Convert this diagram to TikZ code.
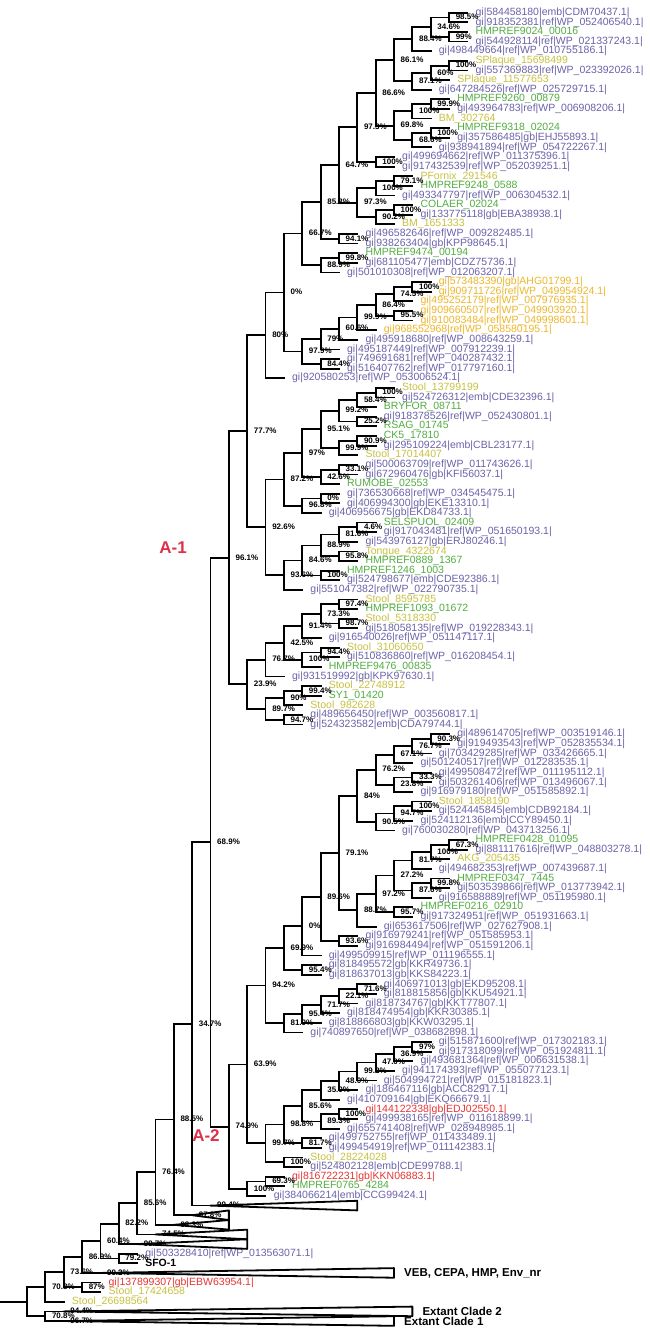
\documentclass[tikz,border=0pt]{standalone}
\usepackage{fontspec}
\setmainfont{Liberation Sans}
\usetikzlibrary{calc}

\definecolor{gicol}{RGB}{106,98,168}
\definecolor{hmpcol}{RGB}{82,172,64}
\definecolor{stcol}{RGB}{200,192,64}
\definecolor{orcol}{RGB}{236,182,44}
\definecolor{redcol}{RGB}{228,52,52}
\definecolor{acol}{RGB}{222,48,72}

\tikzset{
  brline/.style={line width=1.8pt,line cap=rect},
  taxlab/.style={anchor=west,inner sep=0pt,font=\fontsize{10.5}{12}\selectfont},
  bslab/.style={anchor=west,inner sep=0pt,font=\bfseries\fontsize{8}{9}\selectfont},
  grplab/.style={inner sep=0pt,font=\bfseries\fontsize{17}{20}\selectfont,text=acol},
  cladetxt/.style={anchor=west,inner sep=0pt,font=\bfseries\fontsize{11.5}{13}\selectfont}
}

\newcommand\tipleaf[5]{%
  \pgfmathsetmacro\rowy{12.7+9.62*(#2-1)}%
  \pgfmathsetmacro\colx{27+18.35*#3}%
  \expandafter\xdef\csname ty#1\endcsname{\rowy}%
  \coordinate (#1) at (\colx,\rowy);
  \node[taxlab,text=#4] (#1-t) at ([xshift=8pt]#1) {#5};}

\newcommand\joinclade[5]{%
  \pgfmathsetmacro\rowy{(\csname ty#3\endcsname+\csname ty#4\endcsname)/2}%
  \pgfmathsetmacro\colx{27+18.35*#2}%
  \expandafter\xdef\csname ty#1\endcsname{\rowy}%
  \coordinate (#1) at (\colx,\rowy);
  \draw[brline] (#3) -| (#1) |- (#4);
  \node[bslab] (#1-b) at ([xshift=6.5pt,yshift=0.5pt]#1) {#5};}

\newcommand\collapsedclade[5]{%
  \pgfmathsetmacro\rowy{12.7+9.62*(#2-1)}%
  \pgfmathsetmacro\colx{27+18.35*#3}%
  \pgfmathsetmacro\tipx{27+18.35*#4}%
  \expandafter\xdef\csname ty#1\endcsname{\rowy}%
  \coordinate (#1) at (\colx,\rowy);
  \coordinate (#1-e) at (\tipx,\rowy);
  \coordinate (#1-u) at (\tipx,\rowy-4.8);
  \coordinate (#1-d) at (\tipx,\rowy+4.8);
  \draw[brline,line join=round] (#1) -- (#1-u) -- (#1-d) -- cycle;
  \node[bslab] (#1-b) at ([xshift=6.5pt,yshift=0.5pt]#1) {#5};}

\begin{document}
\begin{tikzpicture}[x=1pt,y=-1pt]
\useasboundingbox (0,0) rectangle (650,1330);

\tipleaf{l1}{1}{24}{gicol}{gi|584458180|emb|CDM70437.1|}
\tipleaf{l2}{2}{24}{gicol}{gi|918352381|ref|WP\_052406540.1|}
\tipleaf{l3}{3}{24}{hmpcol}{HMPREF9024\_00016}
\tipleaf{l4}{4}{24}{gicol}{gi|544928114|ref|WP\_021337243.1|}
\tipleaf{l5}{5}{22}{gicol}{gi|498449664|ref|WP\_010755186.1|}
\tipleaf{l6}{6}{24}{stcol}{SPlaque\_15698499}
\tipleaf{l7}{7}{24}{gicol}{gi|557369883|ref|WP\_023392026.1|}
\tipleaf{l8}{8}{23}{stcol}{SPlaque\_11577653}
\tipleaf{l9}{9}{22}{gicol}{gi|647284526|ref|WP\_025729715.1|}
\tipleaf{l10}{10}{23}{hmpcol}{HMPREF9260\_00879}
\tipleaf{l11}{11}{23}{gicol}{gi|493964783|ref|WP\_006908206.1|}
\tipleaf{l12}{12}{22}{stcol}{BM\_302764}
\tipleaf{l13}{13}{23}{hmpcol}{HMPREF9318\_02024}
\tipleaf{l14}{14}{23}{gicol}{gi|357586485|gb|EHJ55893.1|}
\tipleaf{l15}{15}{22}{gicol}{gi|938941894|ref|WP\_054722267.1|}
\tipleaf{l16}{16}{20}{gicol}{gi|499694662|ref|WP\_011375396.1|}
\tipleaf{l17}{17}{20}{gicol}{gi|917432539|ref|WP\_052039251.1|}
\tipleaf{l18}{18}{21}{stcol}{PFornix\_291546}
\tipleaf{l19}{19}{21}{hmpcol}{HMPREF9248\_0588}
\tipleaf{l20}{20}{20}{gicol}{gi|493347797|ref|WP\_006304532.1|}
\tipleaf{l21}{21}{21}{hmpcol}{COLAER\_02024}
\tipleaf{l22}{22}{21}{gicol}{gi|133775118|gb|EBA38938.1|}
\tipleaf{l23}{23}{20}{stcol}{BM\_1651333}
\tipleaf{l24}{24}{18}{gicol}{gi|496582646|ref|WP\_009282485.1|}
\tipleaf{l25}{25}{18}{gicol}{gi|938263404|gb|KPP98645.1|}
\tipleaf{l26}{26}{18}{hmpcol}{HMPREF9474\_00194}
\tipleaf{l27}{27}{18}{gicol}{gi|681105477|emb|CDZ75736.1|}
\tipleaf{l28}{28}{17}{gicol}{gi|501010308|ref|WP\_012063207.1|}
\tipleaf{l29}{29}{22}{orcol}{gi|573483390|gb|AHG01799.1|}
\tipleaf{l30}{30}{22}{orcol}{gi|909711726|ref|WP\_049954924.1|}
\tipleaf{l31}{31}{21}{orcol}{gi|495252179|ref|WP\_007976935.1|}
\tipleaf{l32}{32}{21}{orcol}{gi|909660507|ref|WP\_049903920.1|}
\tipleaf{l33}{33}{21}{orcol}{gi|910083484|ref|WP\_049998601.1|}
\tipleaf{l34}{34}{19}{orcol}{gi|968552968|ref|WP\_058580195.1|}
\tipleaf{l35}{35}{18}{gicol}{gi|495918680|ref|WP\_008643259.1|}
\tipleaf{l36}{36}{17}{gicol}{gi|495187449|ref|WP\_007912239.1|}
\tipleaf{l37}{37}{17}{gicol}{gi|749691681|ref|WP\_040287432.1|}
\tipleaf{l38}{38}{17}{gicol}{gi|516407762|ref|WP\_017797160.1|}
\tipleaf{l39}{39}{14}{gicol}{gi|920580253|ref|WP\_053006524.1|}
\tipleaf{l40}{40}{20}{stcol}{Stool\_13799199}
\tipleaf{l41}{41}{20}{gicol}{gi|524726312|emb|CDE32396.1|}
\tipleaf{l42}{42}{19}{hmpcol}{BRYFOR\_08711}
\tipleaf{l43}{43}{19}{gicol}{gi|918378526|ref|WP\_052430801.1|}
\tipleaf{l44}{44}{19}{hmpcol}{RSAG\_01745}
\tipleaf{l45}{45}{19}{hmpcol}{CK5\_17810}
\tipleaf{l46}{46}{19}{gicol}{gi|295109224|emb|CBL23177.1|}
\tipleaf{l47}{47}{18}{stcol}{Stool\_17014407}
\tipleaf{l48}{48}{18}{gicol}{gi|500063709|ref|WP\_011743626.1|}
\tipleaf{l49}{49}{18}{gicol}{gi|672960476|gb|KFI56037.1|}
\tipleaf{l50}{50}{17}{hmpcol}{RUMOBE\_02553}
\tipleaf{l51}{51}{17}{gicol}{gi|736530668|ref|WP\_034545475.1|}
\tipleaf{l52}{52}{17}{gicol}{gi|406994300|gb|EKE13310.1|}
\tipleaf{l53}{53}{16}{gicol}{gi|406956675|gb|EKD84733.1|}
\tipleaf{l54}{54}{19}{hmpcol}{SELSPUOL\_02409}
\tipleaf{l55}{55}{19}{gicol}{gi|917043481|ref|WP\_051650193.1|}
\tipleaf{l56}{56}{18}{gicol}{gi|543976127|gb|ERJ80246.1|}
\tipleaf{l57}{57}{18}{stcol}{Tongue\_4322674}
\tipleaf{l58}{58}{18}{hmpcol}{HMPREF0889\_1367}
\tipleaf{l59}{59}{17}{hmpcol}{HMPREF1246\_1003}
\tipleaf{l60}{60}{17}{gicol}{gi|524798677|emb|CDE92386.1|}
\tipleaf{l61}{61}{15}{gicol}{gi|551047382|ref|WP\_022790735.1|}
\tipleaf{l62}{62}{18}{stcol}{Stool\_8595785}
\tipleaf{l63}{63}{18}{hmpcol}{HMPREF1093\_01672}
\tipleaf{l64}{64}{18}{stcol}{Stool\_5318330}
\tipleaf{l65}{65}{18}{gicol}{gi|518058135|ref|WP\_019228343.1|}
\tipleaf{l66}{66}{16}{gicol}{gi|916540026|ref|WP\_051147117.1|}
\tipleaf{l67}{67}{17}{stcol}{Stool\_31060650}
\tipleaf{l68}{68}{17}{gicol}{gi|510836860|ref|WP\_016208454.1|}
\tipleaf{l69}{69}{16}{hmpcol}{HMPREF9476\_00835}
\tipleaf{l70}{70}{14}{gicol}{gi|931519992|gb|KPK97630.1|}
\tipleaf{l71}{71}{16}{stcol}{Stool\_22748912}
\tipleaf{l72}{72}{16}{hmpcol}{SY1\_01420}
\tipleaf{l73}{73}{15}{stcol}{Stool\_982628}
\tipleaf{l74}{74}{15}{gicol}{gi|489656450|ref|WP\_003560817.1|}
\tipleaf{l75}{75}{15}{gicol}{gi|524323582|emb|CDA79744.1|}
\tipleaf{l76}{76}{23}{gicol}{gi|489614705|ref|WP\_003519146.1|}
\tipleaf{l77}{77}{23}{gicol}{gi|919493543|ref|WP\_052835534.1|}
\tipleaf{l78}{78}{22}{gicol}{gi|703429285|ref|WP\_033426665.1|}
\tipleaf{l79}{79}{21}{gicol}{gi|501240517|ref|WP\_012283535.1|}
\tipleaf{l80}{80}{22}{gicol}{gi|499508472|ref|WP\_011195112.1|}
\tipleaf{l81}{81}{22}{gicol}{gi|503261406|ref|WP\_013496067.1|}
\tipleaf{l82}{82}{21}{gicol}{gi|916979180|ref|WP\_051585892.1|}
\tipleaf{l83}{83}{22}{stcol}{Stool\_1858190}
\tipleaf{l84}{84}{22}{gicol}{gi|524445845|emb|CDB92184.1|}
\tipleaf{l85}{85}{21}{gicol}{gi|524112136|emb|CCY89450.1|}
\tipleaf{l86}{86}{20}{gicol}{gi|760030280|ref|WP\_043713256.1|}
\tipleaf{l87}{87}{24}{hmpcol}{HMPREF0428\_01095}
\tipleaf{l88}{88}{24}{gicol}{gi|881117616|ref|WP\_048803278.1|}
\tipleaf{l89}{89}{23}{stcol}{AKG\_205435}
\tipleaf{l90}{90}{22}{gicol}{gi|494682353|ref|WP\_007439687.1|}
\tipleaf{l91}{91}{23}{hmpcol}{HMPREF0347\_7445}
\tipleaf{l92}{92}{23}{gicol}{gi|503539866|ref|WP\_013773942.1|}
\tipleaf{l93}{93}{22}{gicol}{gi|916588889|ref|WP\_051195980.1|}
\tipleaf{l94}{94}{21}{hmpcol}{HMPREF0216\_02910}
\tipleaf{l95}{95}{21}{gicol}{gi|917324951|ref|WP\_051931663.1|}
\tipleaf{l96}{96}{19}{gicol}{gi|653617506|ref|WP\_027627908.1|}
\tipleaf{l97}{97}{18}{gicol}{gi|916979241|ref|WP\_051585953.1|}
\tipleaf{l98}{98}{18}{gicol}{gi|916984494|ref|WP\_051591206.1|}
\tipleaf{l99}{99}{16}{gicol}{gi|499509915|ref|WP\_011196555.1|}
\tipleaf{l100}{100}{16}{gicol}{gi|818495572|gb|KKR49736.1|}
\tipleaf{l101}{101}{16}{gicol}{gi|818637013|gb|KKS84223.1|}
\tipleaf{l102}{102}{19}{gicol}{gi|406971013|gb|EKD95208.1|}
\tipleaf{l103}{103}{19}{gicol}{gi|818815856|gb|KKU54921.1|}
\tipleaf{l104}{104}{18}{gicol}{gi|818734767|gb|KKT77807.1|}
\tipleaf{l105}{105}{17}{gicol}{gi|818474954|gb|KKR30385.1|}
\tipleaf{l106}{106}{16}{gicol}{gi|818866803|gb|KKW03295.1|}
\tipleaf{l107}{107}{15}{gicol}{gi|740897650|ref|WP\_038682898.1|}
\tipleaf{l108}{108}{22}{gicol}{gi|515871600|ref|WP\_017302183.1|}
\tipleaf{l109}{109}{22}{gicol}{gi|917318099|ref|WP\_051924811.1|}
\tipleaf{l110}{110}{21}{gicol}{gi|493681364|ref|WP\_006631538.1|}
\tipleaf{l111}{111}{20}{gicol}{gi|941174393|ref|WP\_055077123.1|}
\tipleaf{l112}{112}{19}{gicol}{gi|504994721|ref|WP\_015181823.1|}
\tipleaf{l113}{113}{18}{gicol}{gi|186467116|gb|ACC82917.1|}
\tipleaf{l114}{114}{17}{gicol}{gi|410709164|gb|EKQ66679.1|}
\tipleaf{l115}{115}{18}{redcol}{gi|144122338|gb|EDJ02550.1|}
\tipleaf{l116}{116}{18}{gicol}{gi|499938165|ref|WP\_011618899.1|}
\tipleaf{l117}{117}{17}{gicol}{gi|655741408|ref|WP\_028948985.1|}
\tipleaf{l118}{118}{16}{gicol}{gi|499752755|ref|WP\_011433489.1|}
\tipleaf{l119}{119}{16}{gicol}{gi|499454919|ref|WP\_011142383.1|}
\tipleaf{l120}{120}{15}{stcol}{Stool\_28224028}
\tipleaf{l121}{121}{15}{gicol}{gi|524802128|emb|CDE99788.1|}
\tipleaf{l122}{122}{14}{redcol}{gi|816722231|gb|KKN06883.1|}
\tipleaf{l123}{123}{14}{hmpcol}{HMPREF0765\_4284}
\tipleaf{l124}{124}{13}{gicol}{gi|384066214|emb|CCG99424.1|}
\tipleaf{l125}{130}{6}{gicol}{gi|503328410|ref|WP\_013563071.1|}
\tipleaf{l126}{131}{6}{black}{\bfseries SFO-1}
\tipleaf{l127}{133}{4}{redcol}{gi|137899307|gb|EBW63954.1|}
\tipleaf{l128}{134}{4}{stcol}{Stool\_17424658}
\tipleaf{l129}{135}{2}{stcol}{Stool\_26698564}

\joinclade{n1}{23}{l1}{l2}{98.5\%}
\joinclade{n2}{23}{l3}{l4}{99\%}
\joinclade{n3}{22}{n1}{n2}{34.6\%}
\joinclade{n4}{21}{n3}{l5}{88.4\%}
\joinclade{n5}{23}{l6}{l7}{100\%}
\joinclade{n6}{22}{n5}{l8}{60\%}
\joinclade{n7}{21}{n6}{l9}{87.1\%}
\joinclade{n8}{20}{n4}{n7}{86.1\%}
\joinclade{n9}{22}{l10}{l11}{99.9\%}
\joinclade{n10}{21}{n9}{l12}{100\%}
\joinclade{n11}{22}{l13}{l14}{100\%}
\joinclade{n12}{21}{n11}{l15}{68.6\%}
\joinclade{n13}{20}{n10}{n12}{69.8\%}
\joinclade{n14}{19}{n8}{n13}{86.6\%}
\joinclade{n15}{19}{l16}{l17}{100\%}
\joinclade{n16}{18}{n14}{n15}{97.3\%}
\joinclade{n17}{20}{l18}{l19}{79.1\%}
\joinclade{n18}{19}{n17}{l20}{100\%}
\joinclade{n19}{20}{l21}{l22}{100\%}
\joinclade{n20}{19}{n19}{l23}{90.2\%}
\joinclade{n21}{18}{n18}{n20}{97.3\%}
\joinclade{n22}{17}{n16}{n21}{64.7\%}
\joinclade{n23}{17}{l24}{l25}{94.1\%}
\joinclade{n24}{16}{n22}{n23}{85.3\%}
\joinclade{n25}{17}{l26}{l27}{99.8\%}
\joinclade{n26}{16}{n25}{l28}{88.9\%}
\joinclade{n27}{15}{n24}{n26}{66.7\%}
\joinclade{n28}{21}{l29}{l30}{100\%}
\joinclade{n29}{20}{n28}{l31}{74.5\%}
\joinclade{n30}{20}{l32}{l33}{95.5\%}
\joinclade{n31}{19}{n29}{n30}{86.4\%}
\joinclade{n32}{18}{n31}{l34}{99.9\%}
\joinclade{n33}{17}{n32}{l35}{60.6\%}
\joinclade{n34}{16}{n33}{l36}{79\%}
\joinclade{n35}{16}{l37}{l38}{84.4\%}
\joinclade{n36}{15}{n34}{n35}{97.9\%}
\joinclade{n37}{14}{n27}{n36}{0\%}
\joinclade{n38}{13}{n37}{l39}{80\%}
\joinclade{n39}{19}{l40}{l41}{100\%}
\joinclade{n40}{18}{n39}{l42}{58.4\%}
\joinclade{n41}{18}{l43}{l44}{25.2\%}
\joinclade{n42}{17}{n40}{n41}{99.2\%}
\joinclade{n43}{18}{l45}{l46}{90.9\%}
\joinclade{n44}{17}{n43}{l47}{99.9\%}
\joinclade{n45}{16}{n42}{n44}{95.1\%}
\joinclade{n46}{17}{l48}{l49}{33.1\%}
\joinclade{n47}{16}{n46}{l50}{42.6\%}
\joinclade{n48}{15}{n45}{n47}{97\%}
\joinclade{n49}{16}{l51}{l52}{0\%}
\joinclade{n50}{15}{n49}{l53}{96.8\%}
\joinclade{n51}{14}{n48}{n50}{87.2\%}
\joinclade{n52}{18}{l54}{l55}{4.6\%}
\joinclade{n53}{17}{n52}{l56}{81.6\%}
\joinclade{n54}{17}{l57}{l58}{95.8\%}
\joinclade{n55}{16}{n53}{n54}{88.9\%}
\joinclade{n56}{16}{l59}{l60}{100\%}
\joinclade{n57}{15}{n55}{n56}{84.6\%}
\joinclade{n58}{14}{n57}{l61}{93.6\%}
\joinclade{n59}{13}{n51}{n58}{92.6\%}
\joinclade{n60}{12}{n38}{n59}{77.7\%}
\joinclade{n61}{17}{l62}{l63}{97.4\%}
\joinclade{n62}{17}{l64}{l65}{98.7\%}
\joinclade{n63}{16}{n61}{n62}{73.3\%}
\joinclade{n64}{15}{n63}{l66}{91.4\%}
\joinclade{n65}{16}{l67}{l68}{94.4\%}
\joinclade{n66}{15}{n65}{l69}{100\%}
\joinclade{n67}{14}{n64}{n66}{42.5\%}
\joinclade{n68}{13}{n67}{l70}{76.7\%}
\joinclade{n69}{15}{l71}{l72}{99.4\%}
\joinclade{n70}{14}{n69}{l73}{90\%}
\joinclade{n71}{14}{l74}{l75}{94.7\%}
\joinclade{n72}{13}{n70}{n71}{89.7\%}
\joinclade{n73}{12}{n68}{n72}{23.9\%}
\joinclade{n74}{11}{n60}{n73}{96.1\%}
\joinclade{n75}{22}{l76}{l77}{90.3\%}
\joinclade{n76}{21}{n75}{l78}{76.7\%}
\joinclade{n77}{20}{n76}{l79}{67.1\%}
\joinclade{n78}{21}{l80}{l81}{33.3\%}
\joinclade{n79}{20}{n78}{l82}{23.8\%}
\joinclade{n80}{19}{n77}{n79}{76.2\%}
\joinclade{n81}{21}{l83}{l84}{100\%}
\joinclade{n82}{20}{n81}{l85}{94.7\%}
\joinclade{n83}{19}{n82}{l86}{90.5\%}
\joinclade{n84}{18}{n80}{n83}{84\%}
\joinclade{n85}{23}{l87}{l88}{67.3\%}
\joinclade{n86}{22}{n85}{l89}{100\%}
\joinclade{n87}{21}{n86}{l90}{81.7\%}
\joinclade{n88}{22}{l91}{l92}{99.8\%}
\joinclade{n89}{21}{n88}{l93}{87.6\%}
\joinclade{n90}{20}{n87}{n89}{27.2\%}
\joinclade{n91}{20}{l94}{l95}{95.7\%}
\joinclade{n92}{19}{n90}{n91}{97.2\%}
\joinclade{n93}{18}{n92}{l96}{88.7\%}
\joinclade{n94}{17}{n84}{n93}{79.1\%}
\joinclade{n95}{17}{l97}{l98}{93.6\%}
\joinclade{n96}{16}{n94}{n95}{89.6\%}
\joinclade{n97}{15}{n96}{l99}{0\%}
\joinclade{n98}{15}{l100}{l101}{95.4\%}
\joinclade{n99}{14}{n97}{n98}{69.9\%}
\joinclade{n100}{18}{l102}{l103}{71.6\%}
\joinclade{n101}{17}{n100}{l104}{22.1\%}
\joinclade{n102}{16}{n101}{l105}{71.7\%}
\joinclade{n103}{15}{n102}{l106}{95.4\%}
\joinclade{n104}{14}{n103}{l107}{81.9\%}
\joinclade{n105}{13}{n99}{n104}{94.2\%}
\joinclade{n106}{21}{l108}{l109}{97\%}
\joinclade{n107}{20}{n106}{l110}{36.9\%}
\joinclade{n108}{19}{n107}{l111}{47.0\%}
\joinclade{n109}{18}{n108}{l112}{99.2\%}
\joinclade{n110}{17}{n109}{l113}{48.0\%}
\joinclade{n111}{16}{n110}{l114}{35.0\%}
\joinclade{n112}{17}{l115}{l116}{100\%}
\joinclade{n113}{16}{n112}{l117}{89.3\%}
\joinclade{n114}{15}{n111}{n113}{85.6\%}
\joinclade{n115}{15}{l118}{l119}{81.7\%}
\joinclade{n116}{14}{n114}{n115}{98.8\%}
\joinclade{n117}{14}{l120}{l121}{100\%}
\joinclade{n118}{13}{n116}{n117}{99.7\%}
\joinclade{n119}{12}{n105}{n118}{63.9\%}
\joinclade{n120}{13}{l122}{l123}{69.3\%}
\joinclade{n121}{12}{n120}{l124}{100\%}
\joinclade{n122}{11}{n119}{n121}{74.9\%}
\joinclade{n123}{10}{n74}{n122}{68.9\%}

\collapsedclade{t1}{125}{10}{18}{99.4\%}
\joinclade{n124}{9}{n123}{t1}{34.7\%}
\collapsedclade{t2}{126}{9}{11}{97.8\%}
\joinclade{n125}{8}{n124}{t2}{88.5\%}
\collapsedclade{t3}{127}{8}{11}{93.3\%}
\joinclade{n126}{7}{n125}{t3}{76.4\%}
\collapsedclade{t4}{128}{7}{12}{74.5\%}
\joinclade{n127}{6}{n126}{t4}{85.6\%}
\collapsedclade{t5}{129}{6}{12}{99.7\%}
\joinclade{n128}{5}{n127}{t5}{82.2\%}
\joinclade{n129}{5}{l125}{l126}{79.2\%}
\joinclade{n130}{4}{n128}{n129}{60.4\%}
\collapsedclade{t6}{132}{4}{20}{99.2\%}
\joinclade{n131}{3}{n130}{t6}{86.9\%}
\joinclade{n132}{3}{l127}{l128}{87\%}
\joinclade{n133}{2}{n131}{n132}{73.6\%}
\joinclade{n134}{1}{n133}{l129}{70.8\%}
\collapsedclade{t7}{136}{2}{21}{94.4\%}
\collapsedclade{t8}{137}{2}{20}{96.7\%}
\joinclade{n135}{1}{t7}{t8}{70.8\%}

\coordinate (root) at (27,{(\csname tyn134\endcsname+\csname tyn135\endcsname)/2});
\draw[brline] (n134) -| (root) |- (n135);
\draw[brline] (root -| 0,0) -- (root);

\node[cladetxt] (t6-n) at ([xshift=10pt]t6-e) {VEB, CEPA, HMP, Env\_nr};
\node[cladetxt] (t7-n) at ([xshift=10pt]t7-e) {Extant Clade 2};
\node[cladetxt] (t8-n) at ([xshift=10pt]t8-e) {Extant Clade 1};

\node[grplab,anchor=east] (grpA1) at (187,548) {A-1};
\node[grplab] (grpA2) at (206,1136) {A-2};
\end{tikzpicture}
\end{document}
